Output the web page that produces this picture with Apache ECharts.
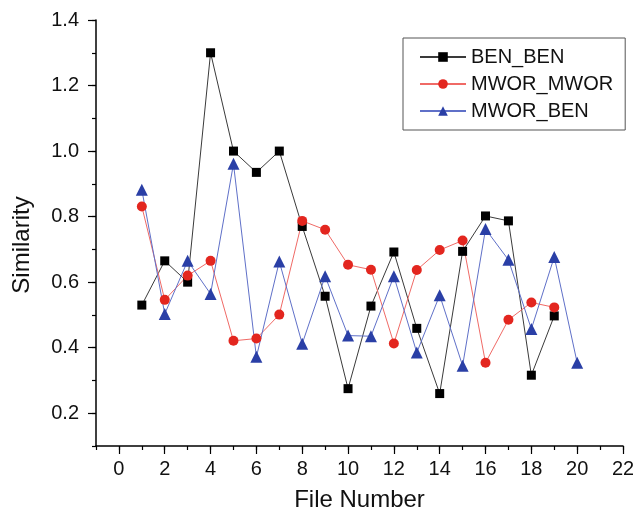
<!DOCTYPE html>
<html>
<head>
<meta charset="utf-8">
<script src="https://cdn.jsdelivr.net/npm/echarts@6/dist/echarts.min.js"></script>
<style>html,body{margin:0;padding:0;background:#fff}#c{width:633px;height:513px}</style>
</head>
<body>
<div id="c"></div>
<script>
const fileNumbers = [1,2,3,4,5,6,7,8,9,10,11,12,13,14,15,16,17,18,19,20];
const benBen =   [0.53,0.665,0.60,1.30,1.00,0.935,1.00,0.77,0.557,0.275,0.527,0.692,0.459,0.26,0.694,0.802,0.787,0.316,0.497];
const mworMwor = [0.831,0.546,0.62,0.665,0.421,0.428,0.501,0.787,0.76,0.653,0.638,0.413,0.637,0.698,0.727,0.354,0.485,0.538,0.523];
const mworBen =  [0.882,0.503,0.665,0.564,0.961,0.372,0.663,0.412,0.618,0.437,0.435,0.618,0.385,0.56,0.345,0.762,0.668,0.457,0.677,0.354];
const seriesNames = ['BEN_BEN','MWOR_MWOR','MWOR_BEN'];
const xTitle = 'File Number';
const yTitle = 'Similarity';

const FONT = '"Liberation Sans", Arial, Helvetica, sans-serif';
function pairs(vals){ return vals.map((v,i)=>[fileNumbers[i], v]); }

const L = 96, R = 10, T = 20, B = 67;
const W = 633 - L - R, H = 513 - T - B;
const xUnit = W / 23;      // x from -1 to 22
const yUnit = H / 1.3;     // y from 0.1 to 1.4

const axisLineStyle = {onZero:false, lineStyle:{color:'#000', width:1.5}};

const chart = echarts.init(document.getElementById('c'), null, {renderer:'canvas'});
chart.setOption({
  animation:false,
  backgroundColor:'#fff',
  grid:[
    {left:L, right:R, top:T, bottom:B, containLabel:false, outerBoundsMode:'none'},
    {left:L + xUnit, right:R, top:T, bottom:B, containLabel:false, outerBoundsMode:'none'},
    {left:L, right:R, top:T, bottom:B + 0.1*yUnit, containLabel:false, outerBoundsMode:'none'}
  ],
  xAxis:[
    {gridIndex:0, type:'value', min:-1, max:22, interval:1,
     axisLine:axisLineStyle, axisTick:{length:4, lineStyle:{color:'#000', width:1.2}},
     axisLabel:{show:false}, splitLine:{show:false},
     name:xTitle, nameLocation:'middle', nameGap:42,
     nameTextStyle:{fontFamily:FONT, fontSize:24, color:'#111'}},
    {gridIndex:1, type:'value', min:0, max:22, interval:2,
     axisLine:{show:false, onZero:false}, axisTick:{length:8, lineStyle:{color:'#000', width:1.2}},
     axisLabel:{margin:13, fontFamily:FONT, fontSize:20, color:'#111'}, splitLine:{show:false}},
    {gridIndex:2, type:'value', min:-1, max:22, show:false}
  ],
  yAxis:[
    {gridIndex:0, type:'value', min:0.1, max:1.4, interval:0.1,
     axisLine:axisLineStyle, axisTick:{length:4, lineStyle:{color:'#000', width:1.2}},
     axisLabel:{show:false}, splitLine:{show:false},
     name:yTitle, nameLocation:'middle', nameGap:62, nameRotate:90,
     nameTextStyle:{fontFamily:FONT, fontSize:24, color:'#111', padding:[0,24,0,0]}},
    {gridIndex:1, type:'value', min:0.1, max:1.4, show:false},
    {gridIndex:2, type:'value', min:0.2, max:1.4, interval:0.2,
     axisLine:{show:false, onZero:false}, axisTick:{length:8, lineStyle:{color:'#000', width:1.2}},
     axisLabel:{margin:17, fontFamily:FONT, fontSize:20, color:'#111', formatter:v=>v.toFixed(1)},
     splitLine:{show:false}}
  ],
  legend:{
    left:403, top:38, orient:'vertical',
    padding:[9,12,9,16], itemGap:7, itemWidth:46, itemHeight:12,
    borderColor:'#555', borderWidth:1,
    textStyle:{fontFamily:FONT, fontSize:20, color:'#111', lineHeight:20},
    data:seriesNames
  },
  series:[
    {name:seriesNames[0], type:'line', xAxisIndex:0, yAxisIndex:0, data:pairs(benBen),
     symbol:'rect', symbolSize:9, itemStyle:{color:'#000'},
     lineStyle:{color:'#3a3a3a', width:1}},
    {name:seriesNames[1], type:'line', xAxisIndex:0, yAxisIndex:0, data:pairs(mworMwor),
     symbol:'circle', symbolSize:10, itemStyle:{color:'#e3261f'},
     lineStyle:{color:'#f06a66', width:1}},
    {name:seriesNames[2], type:'line', xAxisIndex:0, yAxisIndex:0, data:pairs(mworBen),
     symbol:'triangle', symbolSize:12, itemStyle:{color:'#2a3fa6'},
     lineStyle:{color:'#5f70c8', width:1}}
  ]
});
</script>
</body>
</html>
